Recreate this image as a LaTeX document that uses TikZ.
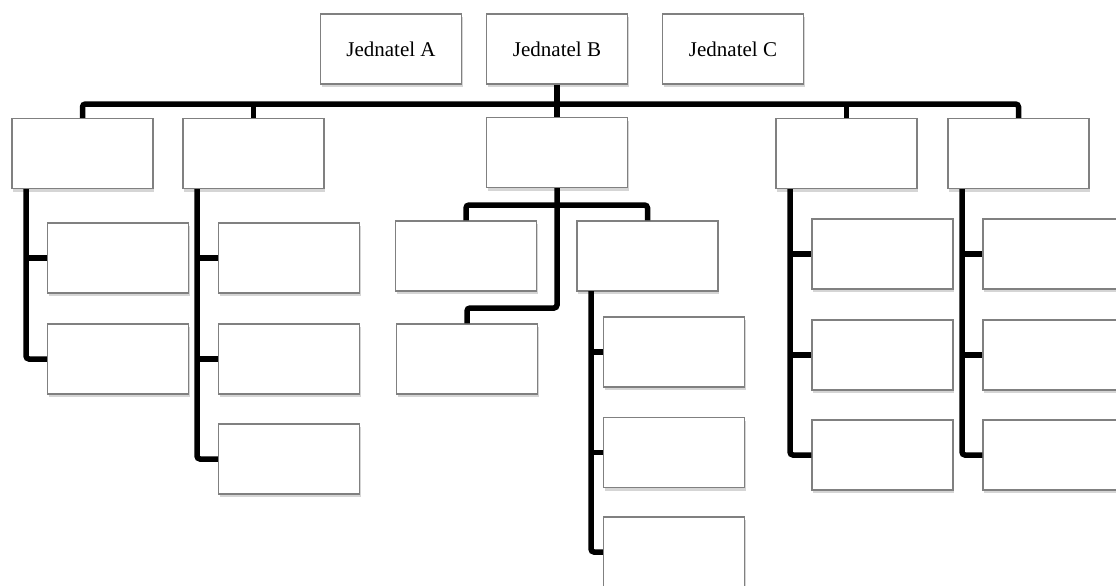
\documentclass[tikz,border=0pt]{standalone}
\usepackage{fontspec}
\setmainfont{Liberation Serif}
\usetikzlibrary{shadows}
\begin{document}
\begin{tikzpicture}[x=1pt,y=-1pt,
  box/.style={draw=black!50, line width=1.3pt, fill=white, minimum width=141pt, minimum height=70pt, inner sep=0pt,
    font=\fontsize{21}{24}\selectfont,
    drop shadow={shadow xshift=1pt, shadow yshift=-3pt, opacity=0.3, fill=black!55}},
  conn/.style={line width=5.5pt, black, rounded corners=3pt}]
\useasboundingbox (0,0) rectangle (1116,586);
% top row
\node[box] (A) at (391,49) {Jednatel A};
\node[box] (B) at (557,49) {Jednatel B};
\node[box] (C) at (733,49) {Jednatel C};
% level 1
\node[box] (b1) at (82.5,153.5) {};
\node[box] (b2) at (253.5,153.5) {};
\node[box] (b3) at (557,152.5) {};
\node[box] (b4) at (846.5,153.5) {};
\node[box] (b5) at (1018.5,153.5) {};
% b1 children
\node[box] (c11) at (118,258) {};
\node[box] (c12) at (118,359) {};
% b2 children
\node[box] (c21) at (289,258) {};
\node[box] (c22) at (289,359) {};
\node[box] (c23) at (289,459) {};
% b3 children
\node[box] (c31) at (466,256) {};
\node[box] (c32) at (467,359) {};
\node[box] (c33) at (647.5,256) {};
% c33 children
\node[box] (d1) at (674,352) {};
\node[box] (d2) at (674,452.5) {};
\node[box] (d3) at (674,552) {};
% b4 children
\node[box] (c41) at (882.5,254) {};
\node[box] (c42) at (882.5,355) {};
\node[box] (c43) at (882.5,455) {};
% b5 children
\node[box] (c51) at (1053.5,254) {};
\node[box] (c52) at (1053.5,355) {};
\node[box] (c53) at (1053.5,455) {};
% coordinates
\coordinate (bar) at (0,104);
\coordinate (v1) at (26,189);
\coordinate (v2) at (197,189);
\coordinate (v3) at (557,308);
\coordinate (bar3) at (0,205);
\coordinate (v33) at (591,291);
\coordinate (v4) at (790,189);
\coordinate (v5) at (962,189);
% connectors
\draw[conn] (b1.north) -- (b1.north |- bar) -| (b5.north);
\draw[conn] (B.south) -- (b3.north);
\draw[conn] (b2.north) -- (b2.north |- bar);
\draw[conn] (b4.north) -- (b4.north |- bar);
% b1
\draw[conn] (v1) |- (c12.west);
\draw[conn] (v1 |- c11.west) -- (c11.west);
% b2
\draw[conn] (v2) |- (c23.west);
\draw[conn] (v2 |- c21.west) -- (c21.west);
\draw[conn] (v2 |- c22.west) -- (c22.west);
% b3
\draw[conn] (b3.south) -- (v3) -| (c32.north);
\draw[conn] (c31.north) -- (c31.north |- bar3) -| (c33.north);
% c33
\draw[conn] (v33) |- (d3.west);
\draw[conn] (v33 |- d1.west) -- (d1.west);
\draw[conn] (v33 |- d2.west) -- (d2.west);
% b4
\draw[conn] (v4) |- (c43.west);
\draw[conn] (v4 |- c41.west) -- (c41.west);
\draw[conn] (v4 |- c42.west) -- (c42.west);
% b5
\draw[conn] (v5) |- (c53.west);
\draw[conn] (v5 |- c51.west) -- (c51.west);
\draw[conn] (v5 |- c52.west) -- (c52.west);
\end{tikzpicture}
\end{document}
